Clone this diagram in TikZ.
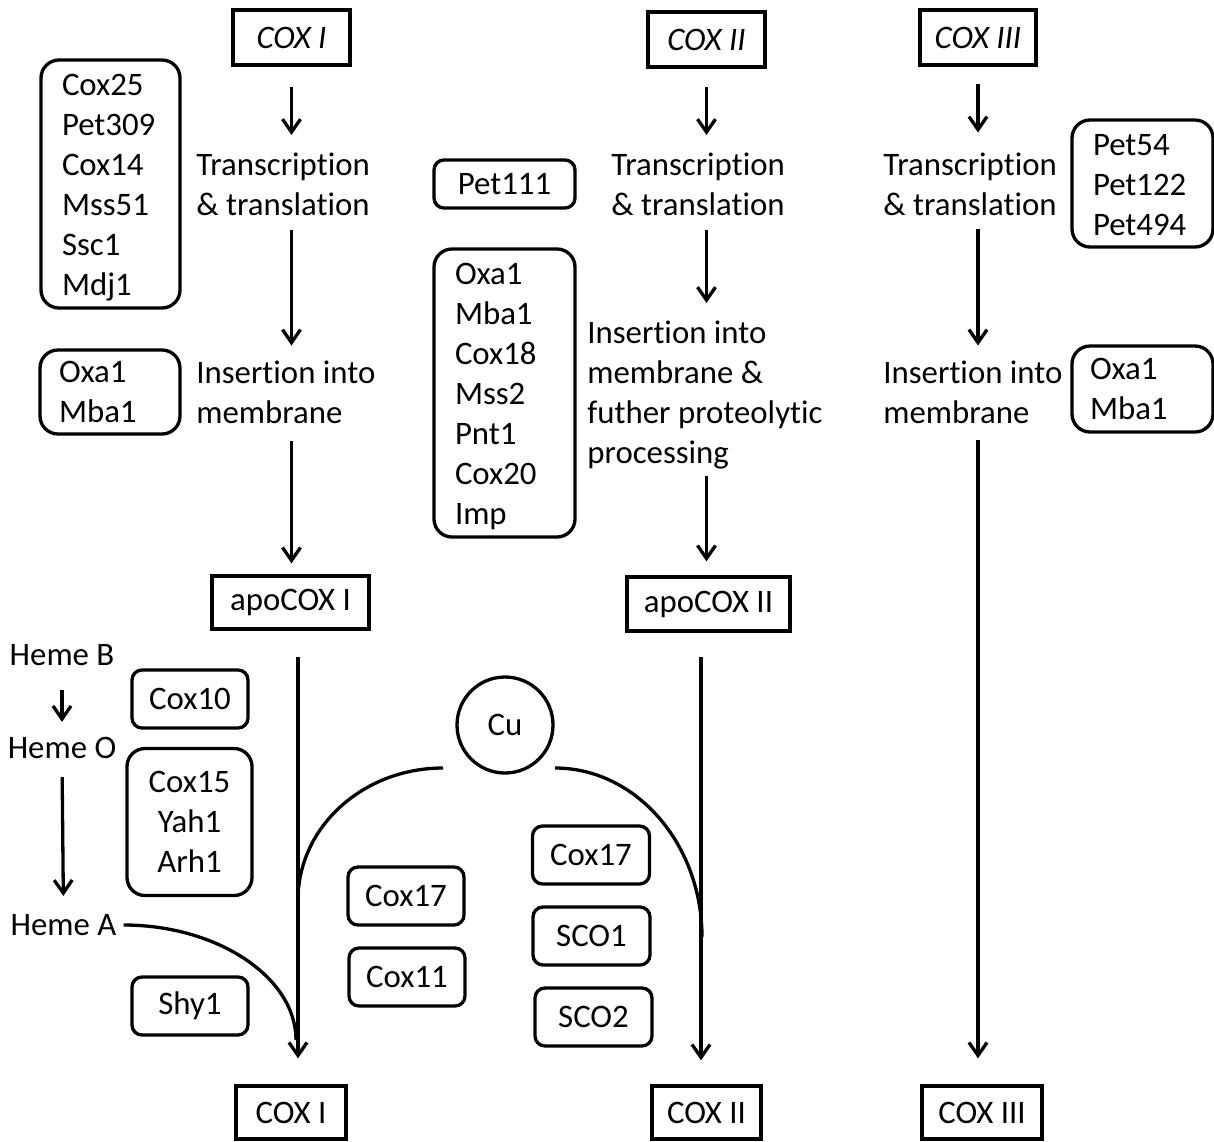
\documentclass[tikz,border=0pt]{standalone}
\usepackage{fontspec}
\setmainfont{Carlito}[Ligatures=NoCommon]
\usetikzlibrary{arrows.meta,calc}
\newcommand{\topfix}[1]{\rule{0pt}{#1}}
\tikzset{
  every node/.style={font=\fontsize{16.4}{20}\selectfont},
  lbl/.style={align=left,inner sep=0pt},
  sqbox/.style={draw,line width=1.65pt,inner sep=0pt,align=center},
  rbox/.style={draw,line width=1.65pt,rounded corners=5pt,inner sep=0pt,align=center,minimum width=58pt,minimum height=29pt},
  lbox/.style={draw,line width=1.65pt,rounded corners=9pt,inner ysep=0pt,align=left},
  arr/.style={line width=1.65pt,-{Straight Barb[length=6.5pt,width=9pt]}},
  ln/.style={line width=1.65pt},
}
\begin{document}
\begin{tikzpicture}[x=0.5pt,y=-0.5pt]
\useasboundingbox (0,0) rectangle (1214,1141);

% top gene boxes
\node[sqbox,minimum width=58.5pt,minimum height=27.5pt] (cox1) at (291.5,37.5) {\itshape COX I};
\node[sqbox,minimum width=58.5pt,minimum height=27.5pt] (cox2) at (706.5,39.5) {\itshape COX II};
\node[sqbox,minimum width=58pt,minimum height=27.5pt] (cox3) at (978,37.5) {\itshape COX III};

% process labels
\node[lbl,anchor=north west] (T1) at (196,153) {Transcription\\\& translation};
\node[lbl,anchor=north west] (I1) at (196,360.5) {Insertion into\\membrane};
\node[lbl,anchor=north west] (T2) at (611,153) {Transcription\\\& translation};
\node[lbl,anchor=north west] (I2) at (587,321) {Insertion into\\membrane \&\\futher proteolytic\\processing};
\node[lbl,anchor=north west] (T3) at (883,152.5) {Transcription\\\& translation};
\node[lbl,anchor=north west] (I3) at (883,360.5) {Insertion into\\membrane};

% apo boxes
\node[sqbox,minimum width=78.5pt,minimum height=26.5pt] (apo1) at (290.5,602.5) {apoCOX I};
\node[sqbox,minimum width=81.5pt,minimum height=27pt] (apo2) at (708.5,604) {apoCOX II};

% final boxes
\node[sqbox,minimum width=55pt,minimum height=26.5pt] (cox1b) at (291,1112.5) {COX I};
\node[sqbox,minimum width=54.5pt,minimum height=26.5pt] (cox2b) at (706.5,1112.5) {COX II};
\node[sqbox,minimum width=60pt,minimum height=26.5pt] (cox3b) at (982,1112.5) {COX III};

% factor lists
\node[lbox,inner xsep=10.5pt,text width=48.5pt,minimum height=124pt] (f1) at (110.5,184) {\topfix{14.6pt}Cox25\\Pet309\\Cox14\\Mss51\\Ssc1\\Mdj1};
\node[lbox,inner xsep=9.5pt,text width=51pt,minimum height=42pt] (f2) at (110,392) {Oxa1\\Mba1};
\node[rbox,minimum width=70.5pt,minimum height=24pt] (f3) at (504.5,184) {Pet111};
\node[lbox,inner xsep=10.5pt,text width=49.5pt,minimum height=144pt] (f4) at (504.5,393) {\topfix{14.4pt}Oxa1\\Mba1\\Cox18\\Mss2\\Pnt1\\Cox20\\Imp};
\node[lbox,inner xsep=10.5pt,text width=49.5pt,minimum height=63.5pt] (f5) at (1142.5,183.5) {\topfix{12.6pt}Pet54\\Pet122\\Pet494};
\node[lbox,inner xsep=9pt,text width=52.5pt,minimum height=43pt] (f6) at (1142.5,389) {Oxa1\\Mba1};

% heme
\node[lbl] (hB) at (62,655) {Heme B};
\node[lbl] (hO) at (62,748) {Heme O};
\node[lbl] (hA) at (63.5,925) {Heme A};

% small factor boxes
\node[rbox] (c10) at (190,699) {Cox10};
\node[draw,line width=1.65pt,rounded corners=9pt,inner sep=0pt,align=center,minimum width=62.5pt,minimum height=73.5pt] (c15) at (189.5,822) {Cox15\\Yah1\\Arh1};
\node[rbox] (shy) at (190,1006) {Shy1};
\node[rbox] (c17a) at (406,896) {Cox17};
\node[rbox] (c11) at (407,977) {Cox11};
\node[rbox,minimum width=58.5pt] (c17b) at (591,855) {Cox17};
\node[rbox,minimum width=58.5pt] (sco1) at (591.5,936) {SCO1};
\node[rbox,minimum width=58.5pt] (sco2) at (593.5,1017) {SCO2};

\node[draw,circle,line width=1.65pt,minimum size=48pt,inner sep=0pt] (cu) at (505,725) {Cu};

% junction coordinates
\coordinate (v1) at (298,0);
\coordinate (v2) at (701,0);
\coordinate (cuL) at (443,768);
\coordinate (cuR) at (555,768);
\coordinate (j1) at (298,900);
\coordinate (j2) at (702,937);
\coordinate (jA) at (296,1040);

% column 1 arrows
\draw[arr,shorten <=10pt,shorten >=9pt] (cox1.south) -- (cox1.south |- T1.north);
\draw[arr,shorten <=6.5pt,shorten >=7.5pt] (cox1.south |- T1.south) -- (cox1.south |- I1.north);
\draw[arr,shorten <=8.5pt,shorten >=5.5pt] (cox1.south |- I1.south) -- (cox1.south |- apo1.north);
\draw[arr,shorten <=13pt,shorten >=13pt] (v1 |- apo1.south) -- (v1 |- cox1b.north);

% column 2 arrows
\draw[arr,shorten <=9pt,shorten >=9pt] (cox2.south) -- (cox2.south |- T2.north);
\draw[arr,shorten <=6.5pt,shorten >=9pt] (cox2.south |- T2.south) -- (cox2.south |- I2.north);
\draw[arr,shorten <=3pt,shorten >=7pt] (cox2.south |- I2.south) -- (cox2.south |- apo2.north);
\draw[arr,shorten <=12pt,shorten >=12pt] (v2 |- apo2.south) -- (v2 |- cox2b.north);

% column 3 arrows
\draw[arr,shorten <=8.5pt,shorten >=10pt] (cox3.south) -- (cox3.south |- T3.north);
\draw[arr,shorten <=6.5pt,shorten >=7.5pt] (cox3.south |- T3.south) -- (cox3.south |- I3.north);
\draw[arr,shorten <=8pt,shorten >=13pt] (cox3.south |- I3.south) -- (cox3.south |- cox3b.north);

% heme arrows
\draw[arr,shorten <=12pt,shorten >=7.5pt] (hB.south) -- (hO.north);
\draw[arr,shorten <=9pt,shorten >=9pt] (hO.south) -- (hA.north);

% curves
\draw[ln] ([xshift=3.5pt]hA.east) .. controls (217,925) and (296,977) .. (jA);
\draw[ln] (cuL) .. controls (363,768) and (298,827) .. (j1);
\draw[ln] (cuR) .. controls (636,768) and (702,844) .. (j2);
\end{tikzpicture}
\end{document}
